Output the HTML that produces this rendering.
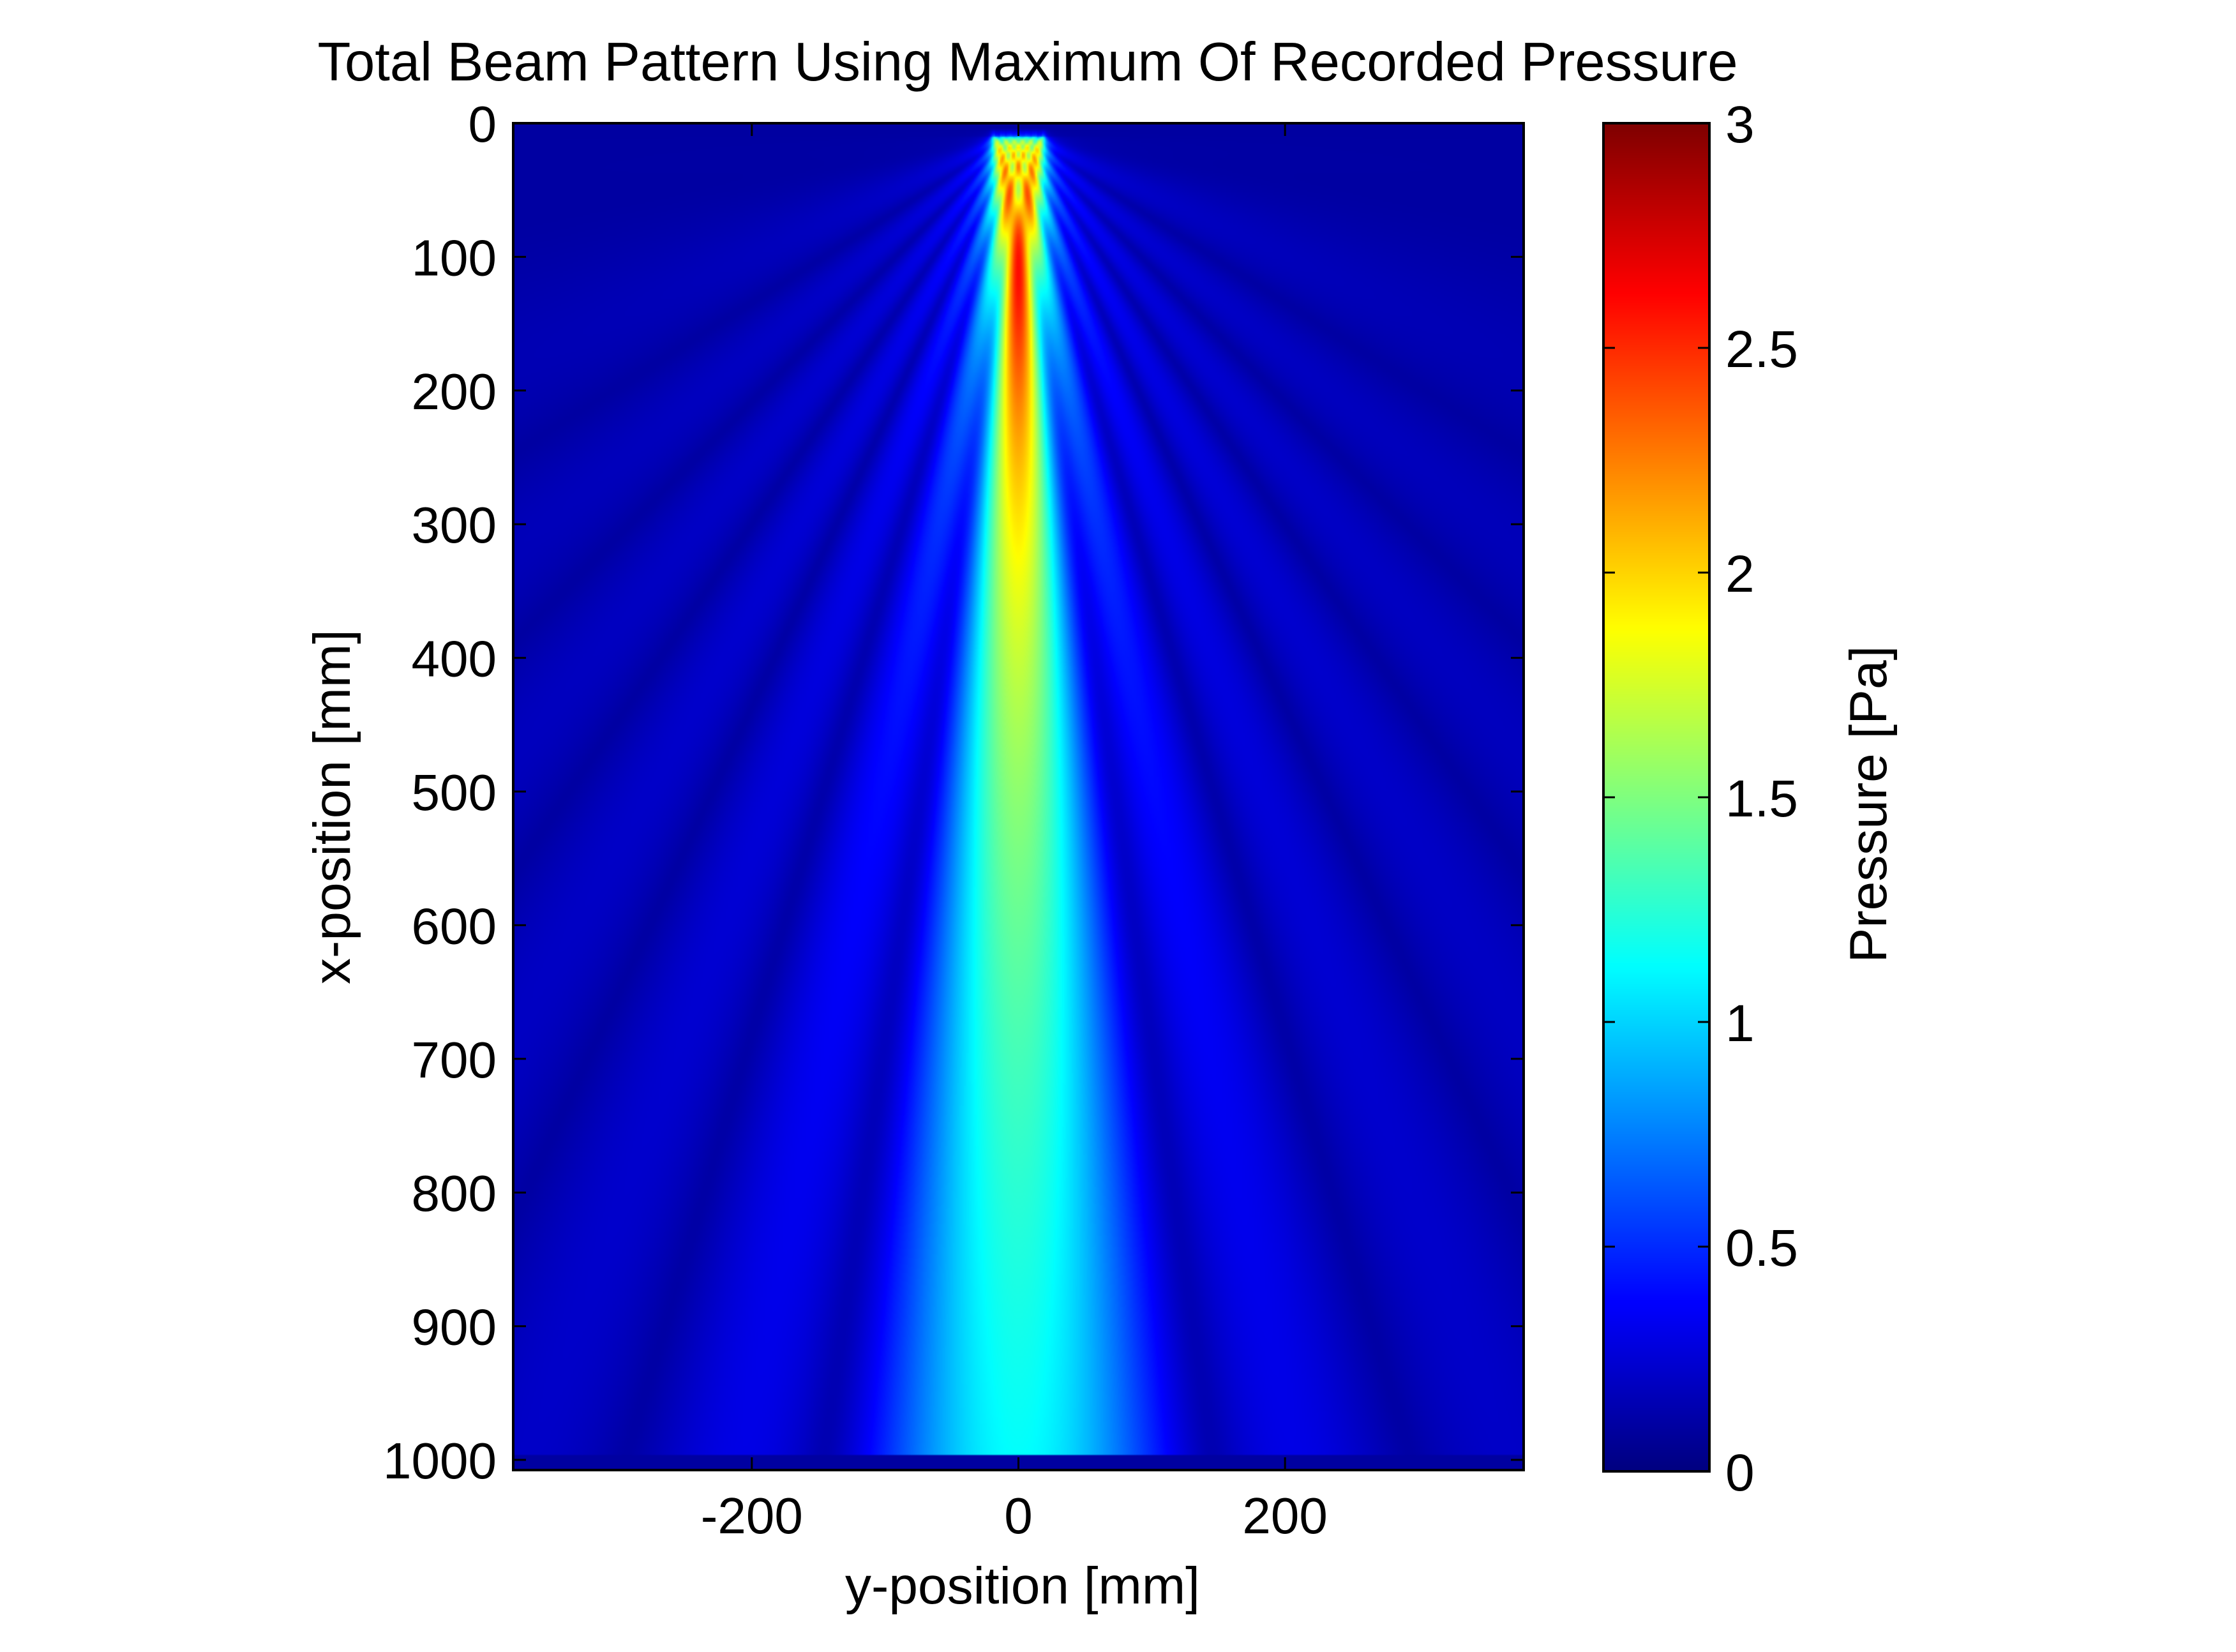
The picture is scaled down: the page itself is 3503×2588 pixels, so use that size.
<!DOCTYPE html>
<html><head><meta charset="utf-8"><style>
html,body{margin:0;padding:0;background:#fff;}
#wrap{position:relative;width:3503px;height:2588px;overflow:hidden;font-family:"Liberation Sans",Arial,sans-serif;}
canvas{position:absolute;}
svg{position:absolute;left:0;top:0;}
text{font-family:"Liberation Sans",Arial,sans-serif;fill:#000;}
</style></head><body>
<div id="wrap">
<canvas id="heat"></canvas>
<canvas id="cbar"></canvas>
<svg id="ov" width="3503" height="2588"></svg>
</div>
<script>
// ---- data ----
const xTicks = [-200, 0, 200];
const yTicks = [0,100,200,300,400,500,600,700,800,900,1000];
const cTicks = [0,0.5,1,1.5,2,2.5,3];
const cTickLabels = ["0","0.5","1","1.5","2","2.5","3"];
const elementY = [-20,-17.5,-15,-12.5,-10,-7.5,-5,-2.5,0,2.5,5,7.5,10,12.5,15,17.5,20]; // source positions [mm]
const elementAmp = [1.75,1.8,1.85,1.9,1.95,2.0,2.0,2.0,2.0,2.0,2.0,2.0,1.95,1.9,1.85,1.8,1.75];
const sourceDepth = [9];       // mm
const wavelength = [6];        // mm
const dataEnd = [996];         // mm
const xDomain = [-379, 379];
const yDomain = [0, 1000];
const cDomain = [0, 3];

// ---- layout ----
const P = {l:804, r:2387, t:193, b:2303};
const y0px = 193, y1000px = 2287;
const sx = v => P.l + (v - xDomain[0])/(xDomain[1]-xDomain[0])*(P.r-P.l);
const sy = v => y0px + (v - yDomain[0])/(yDomain[1]-yDomain[0])*(y1000px-y0px);
const invx = px => xDomain[0] + (px-P.l)/(P.r-P.l)*(xDomain[1]-xDomain[0]);
const invy = py => yDomain[0] + (py-y0px)/(y1000px-y0px)*(yDomain[1]-yDomain[0]);
const CB = {l:2512, r:2678, t:193, b:2305};
const sc = v => CB.b - (v-cDomain[0])/(cDomain[1]-cDomain[0])*(CB.b-CB.t);

function jet(v){
  let t = Math.max(0, Math.min(1, (v-cDomain[0])/(cDomain[1]-cDomain[0])));
  const f = (a)=>Math.max(0,Math.min(1,a));
  const r=f(Math.min(4*t-1.5,-4*t+4.5)), g=f(Math.min(4*t-0.5,-4*t+3.5)), b=f(Math.min(4*t+0.5,-4*t+2.5));
  return [r*255|0,g*255|0,b*255|0];
}

// heatmap
const W=600, H=800;
const hc=document.getElementById('heat');
hc.width=W; hc.height=H;
hc.style.left=P.l+'px'; hc.style.top=P.t+'px';
hc.style.width=(P.r-P.l)+'px'; hc.style.height=(P.b-P.t)+'px';
const ctx=hc.getContext('2d');
const img=ctx.createImageData(W,H);
const k=2*Math.PI/wavelength[0];
for(let j=0;j<H;j++){
  const py=P.t+(j+0.5)/H*(P.b-P.t);
  const x=invy(py);
  for(let i=0;i<W;i++){
    const px=P.l+(i+0.5)/W*(P.r-P.l);
    const y=invx(px);
    let val;
    if(x>dataEnd[0]) val=0.1;
    else{
      let re=0,im=0;
      const dx=Math.max(x-sourceDepth[0],0.3);
      for(let e=0;e<elementY.length;e++){
        const dy=y-elementY[e];
        const r=Math.sqrt(dx*dx+dy*dy)+1.5;
        const dir=Math.pow(dx/r,0.6);
        const a=elementAmp[e]*dir/Math.sqrt(r);
        re+=a*Math.cos(k*r); im+=a*Math.sin(k*r);
      }
      val=0.1+Math.sqrt(re*re+im*im);
      if(x<sourceDepth[0]) val=0.1+(val-0.1)*Math.max(0,1-(sourceDepth[0]-x)/5);
    }
    const c=jet(val), o=(j*W+i)*4;
    img.data[o]=c[0];img.data[o+1]=c[1];img.data[o+2]=c[2];img.data[o+3]=255;
  }
}
ctx.putImageData(img,0,0);

// colorbar
const cc=document.getElementById('cbar');
cc.width=1; cc.height=256;
cc.style.left=CB.l+'px'; cc.style.top=CB.t+'px';
cc.style.width=(CB.r-CB.l)+'px'; cc.style.height=(CB.b-CB.t)+'px';
const cx=cc.getContext('2d');
for(let j=0;j<256;j++){const c=jet(cDomain[1]-(j+0.5)/256*(cDomain[1]-cDomain[0]));cx.fillStyle=`rgb(${c[0]},${c[1]},${c[2]})`;cx.fillRect(0,j,1,1);}

// overlay
const NS='http://www.w3.org/2000/svg', svg=document.getElementById('ov');
function el(tag,attrs,txt){const e=document.createElementNS(NS,tag);for(const a in attrs)e.setAttribute(a,attrs[a]);if(txt!=null)e.textContent=txt;svg.appendChild(e);return e;}
let e;
e=el('rect',{x:P.l,y:P.t,width:P.r-P.l,height:P.b-P.t,fill:'none',stroke:'#000','stroke-width':4});


xTicks.forEach(v=>{
  const x=sx(v);
  e=el('line',{x1:x,y1:P.b,x2:x,y2:P.b-20,stroke:'#000','stroke-width':3});
  
  
  e=el('line',{x1:x,y1:P.t,x2:x,y2:P.t+20,stroke:'#000','stroke-width':3});
  
  
  e=el('text',{x:x,y:2402,'font-size':80,'text-anchor':'middle'},String(v));
  
  
});
yTicks.forEach(v=>{
  const y=sy(v);
  e=el('line',{x1:P.l,y1:y,x2:P.l+20,y2:y,stroke:'#000','stroke-width':3});
  
  
  e=el('line',{x1:P.r,y1:y,x2:P.r-20,y2:y,stroke:'#000','stroke-width':3});
  
  
  e=el('text',{x:778,y:y+29,'font-size':80,'text-anchor':'end'},String(v));
  
  
});
e=el('rect',{x:CB.l,y:CB.t,width:CB.r-CB.l,height:CB.b-CB.t,fill:'none',stroke:'#000','stroke-width':4});


cTicks.forEach((v,i)=>{
  const y=sc(v);
  e=el('line',{x1:CB.l,y1:y,x2:CB.l+18,y2:y,stroke:'#000','stroke-width':3});
  
  
  e=el('line',{x1:CB.r,y1:y,x2:CB.r-18,y2:y,stroke:'#000','stroke-width':3});
  
  
  e=el('text',{x:2703,y:y+30,'font-size':82,'text-anchor':'start'},cTickLabels[i]);
  
  
});
e=el('text',{x:1610,y:126,'font-size':85,'text-anchor':'middle'},'Total Beam Pattern Using Maximum Of Recorded Pressure');


e=el('text',{x:1602,y:2512,'font-size':82,'text-anchor':'middle'},'y-position [mm]');


e=el('text',{x:0,y:0,'font-size':82,'text-anchor':'middle',transform:'translate(548,1264) rotate(-90)'},'x-position [mm]');


e=el('text',{x:0,y:0,'font-size':82,'text-anchor':'middle',transform:'translate(2955,1260) rotate(-90)'},'Pressure [Pa]');


</script>
</body></html>
